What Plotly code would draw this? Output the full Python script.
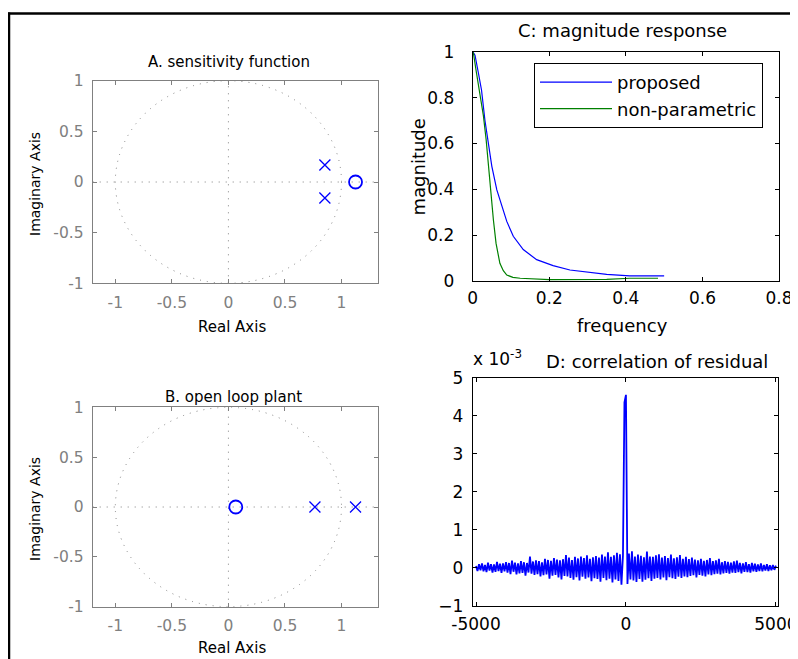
import plotly.graph_objects as go

W, H = 798, 659
PAD = 8  # the page body keeps an 8px margin round the figure

# ----- A: sensitivity function (pole/zero) -----
a_pole_re = [0.853, 0.853]
a_pole_im = [0.168, -0.158]
a_zero_re = [1.124]
a_zero_im = [0.0]

# ----- B: open loop plant (pole/zero) -----
b_pole_re = [0.765, 1.124]
b_pole_im = [0.0, 0.0]
b_zero_re = [0.065]
b_zero_im = [0.0]

# ----- C: magnitude response -----
prop_f = [0, 0.006, 0.015, 0.023, 0.032, 0.041, 0.050, 0.063, 0.076, 0.089,
          0.106, 0.132, 0.167, 0.21, 0.254, 0.302, 0.35, 0.41, 0.5]
prop_m = [1.0, 0.985, 0.906, 0.833, 0.70, 0.60, 0.50, 0.397, 0.325, 0.26,
          0.195, 0.137, 0.093, 0.067, 0.048, 0.038, 0.029, 0.022, 0.022]
np_f = [0, 0.002, 0.01, 0.019, 0.028, 0.035, 0.041, 0.047, 0.054, 0.061,
        0.071, 0.08, 0.089, 0.105, 0.124, 0.2, 0.35, 0.41, 0.484]
np_m = [1.0, 0.993, 0.906, 0.82, 0.72, 0.618, 0.5, 0.384, 0.267, 0.164,
        0.077, 0.045, 0.026, 0.016, 0.012, 0.006, 0.007, 0.012, 0.012]

# ----- D: correlation of residual (x 1e-3), lags -5000..5000 step 50 -----
lags = list(range(-5000, 5001, 50))
corr = [
    0.05, -0.08, 0.10, -0.06, 0.12, -0.09, 0.08, -0.11, 0.14, -0.07,
    0.10, -0.12, 0.09, -0.10, 0.16, -0.08, 0.11, -0.13, 0.12, -0.09,
    0.15, -0.12, 0.13, -0.16, 0.19, -0.10, 0.14, -0.17, 0.12, -0.14,
    0.18, -0.13, 0.15, -0.20, 0.13, -0.12, 0.30, -0.15, 0.17, -0.18,
    0.20, -0.16, 0.18, -0.22, 0.15, -0.19, 0.24, -0.17, 0.21, -0.28,
    0.19, -0.20, 0.26, -0.18, 0.22, -0.25, 0.20, -0.30, 0.23, -0.21,
    0.34, -0.22, 0.27, -0.26, 0.21, -0.31, 0.29, -0.24, 0.25, -0.33,
    0.30, -0.23, 0.26, -0.28, 0.33, -0.25, 0.24, -0.35, 0.28, -0.27,
    0.31, -0.29, 0.27, -0.36, 0.35, -0.26, 0.30, -0.32, 0.41, -0.28,
    0.29, -0.38, 0.33, -0.30, 0.40, -0.34, 0.36, -0.44, 0.32, 4.35,
    4.55,
    -0.42, 0.38, -0.30, 0.44, -0.33, 0.30, -0.37, 0.35, -0.29, 0.32,
    -0.36, 0.28, -0.31, 0.43, -0.27, 0.30, -0.34, 0.29, -0.28, 0.33,
    -0.26, 0.36, -0.30, 0.27, -0.25, 0.31, -0.32, 0.26, -0.24, 0.35,
    -0.27, 0.25, -0.29, 0.28, -0.23, 0.34, -0.26, 0.24, -0.22, 0.29,
    -0.24, 0.23, -0.21, 0.27, -0.19, 0.22, -0.25, 0.20, -0.18, 0.24,
    -0.20, 0.19, -0.22, 0.21, -0.17, 0.26, -0.19, 0.18, -0.16, 0.20,
    -0.15, 0.24, -0.17, 0.15, -0.14, 0.18, -0.13, 0.16, -0.15, 0.14,
    -0.12, 0.17, -0.13, 0.19, -0.11, 0.13, -0.14, 0.12, -0.10, 0.15,
    -0.11, 0.10, -0.12, 0.13, -0.09, 0.11, -0.10, 0.09, -0.08, 0.12,
    -0.09, 0.08, -0.07, 0.10, -0.08, 0.07, -0.06, 0.08, -0.05, 0.06,
]

pz_ticks = [-1, -0.5, 0, 0.5, 1]
pz_text = ["-1", "-0.5", "0", "0.5", "1"]

FONT = "DejaVu Sans"
GRAY = "#808080"
BLUE = "#0000ff"
GREEN = "#008000"

FW, FH = W - PAD, H - PAD


def px_x(x):
    # window pixel -> paper fraction
    return (x - PAD) / FW


def px_y(y):
    return 1 - (y - PAD) / FH


fig = go.Figure()

# pole/zero panels
for xa, ya, pre, pim, zre, zim in [("x", "y", a_pole_re, a_pole_im, a_zero_re, a_zero_im),
                                   ("x2", "y2", b_pole_re, b_pole_im, b_zero_re, b_zero_im)]:
    fig.add_trace(go.Scatter(x=pre, y=pim, mode="markers", xaxis=xa, yaxis=ya, showlegend=False,
                             marker=dict(symbol="x-thin", size=11, line=dict(color=BLUE, width=1.3))))
    fig.add_trace(go.Scatter(x=zre, y=zim, mode="markers", xaxis=xa, yaxis=ya, showlegend=False,
                             marker=dict(symbol="circle-open", size=13, color=BLUE, line=dict(color=BLUE, width=1.8))))

fig.add_trace(go.Scatter(x=prop_f, y=prop_m, mode="lines", name="proposed", xaxis="x3", yaxis="y3",
                         line=dict(color=BLUE, width=1.2)))
fig.add_trace(go.Scatter(x=np_f, y=np_m, mode="lines", name="non-parametric", xaxis="x3", yaxis="y3",
                         line=dict(color=GREEN, width=1.2)))
fig.add_trace(go.Scatter(x=lags, y=corr, mode="lines", xaxis="x4", yaxis="y4", showlegend=False,
                         line=dict(color=BLUE, width=1.8)))

pz_ax = dict(ticks="inside", ticklen=4, tickcolor=GRAY, showline=True, linecolor=GRAY, linewidth=1,
             mirror="ticks", showgrid=False, zeroline=False, tickvals=pz_ticks, ticktext=pz_text,
             automargin=False, tickfont=dict(family=FONT, size=15.5, color=GRAY))
blk_ax = dict(ticks="inside", ticklen=4, tickcolor="black", showline=True, linecolor="black", linewidth=1,
              mirror="ticks", showgrid=False, zeroline=False, automargin=False,
              tickfont=dict(family=FONT, size=17, color="black"))

fig.update_layout(
    width=FW, height=FH, margin=dict(l=0, r=0, t=0, b=0),
    paper_bgcolor="white", plot_bgcolor="white",
    font=dict(family=FONT, color="black"),
    xaxis=dict(pz_ax, domain=[px_x(92.7), px_x(377.7)], range=[-1.2, 1.32], anchor="y", ticklabelstandoff=5),
    yaxis=dict(pz_ax, domain=[px_y(283.3), px_y(80.7)], range=[-1, 1], anchor="x", ticklabelstandoff=5),
    xaxis2=dict(pz_ax, domain=[px_x(92.7), px_x(377.7)], range=[-1.2, 1.32], anchor="y2", ticklabelstandoff=5),
    yaxis2=dict(pz_ax, domain=[px_y(606.7), px_y(407.3)], range=[-1, 1], anchor="x2", ticklabelstandoff=5),
    xaxis3=dict(blk_ax, domain=[px_x(472.7), px_x(779)], range=[0, 0.8], anchor="y3", ticklabelstandoff=2,
                tickvals=[0, 0.2, 0.4, 0.6, 0.8], ticktext=["0", "0.2", "0.4", "0.6", "0.8"]),
    yaxis3=dict(blk_ax, domain=[px_y(281), px_y(51.7)], range=[0, 1], anchor="x3", ticklabelstandoff=14,
                tickvals=[0, 0.2, 0.4, 0.6, 0.8, 1], ticktext=["0", "0.2", "0.4", "0.6", "0.8", "1"]),
    xaxis4=dict(blk_ax, domain=[px_x(472.7), px_x(778.3)], range=[-5110, 5080], anchor="y4",
                tickvals=[-5000, 0, 5000], ticktext=["-5000", "0", "5000"], ticklabelstandoff=3),
    yaxis4=dict(blk_ax, domain=[px_y(606), px_y(377.7)], range=[-1, 5], anchor="x4", ticklabelstandoff=5,
                tickvals=[-1, 0, 1, 2, 3, 4, 5]),
    legend=dict(x=px_x(534), y=px_y(63), xanchor="left", yanchor="top", bordercolor="black", borderwidth=1,
                bgcolor="white", font=dict(family=FONT, size=18), itemwidth=72, tracegroupgap=0),
)

# unit circles and dotted axes for pole/zero panels
for xa, ya in [("x", "y"), ("x2", "y2")]:
    fig.add_shape(type="circle", xref=xa, yref=ya, x0=-1, y0=-1, x1=1, y1=1,
                  line=dict(color=GRAY, width=1, dash="1px,6px"), layer="below")
    fig.add_shape(type="line", xref=xa + " domain", yref=ya, x0=0, x1=1, y0=0, y1=0,
                  line=dict(color=GRAY, width=1, dash="1px,6px"), layer="below")
    fig.add_shape(type="line", xref=xa, yref=ya + " domain", x0=0, x1=0, y0=0, y1=1,
                  line=dict(color=GRAY, width=1, dash="1px,6px"), layer="below")

# outer frame
fig.add_shape(type="line", xref="paper", yref="paper", x0=px_x(8), x1=1, y0=px_y(13.5), y1=px_y(13.5),
              line=dict(color="black", width=2.5))
fig.add_shape(type="line", xref="paper", yref="paper", x0=px_x(9), x1=px_x(9), y0=px_y(12.5), y1=0,
              line=dict(color="black", width=2.5))

texts = [
    ("A. sensitivity function", 229, 62, 15, 0),
    ("B. open loop plant", 233, 396.7, 15, 0),
    ("C: magnitude response", 622, 30, 18, 0),
    ("D: correlation of residual", 657, 361.7, 18, 0),
    ("Real Axis", 232, 327, 15, 0),
    ("Real Axis", 232, 648, 15, 0),
    ("Imaginary Axis", 35, 184, 14, -90),
    ("Imaginary Axis", 35, 509, 14, -90),
    ("magnitude", 418, 167.5, 18, -90),
    ("frequency", 622, 325, 18, 0),
]
for t, x, y, s, ang in texts:
    fig.add_annotation(text=t, x=px_x(x), y=px_y(y), xref="paper", yref="paper", showarrow=False,
                       xanchor="center", yanchor="middle", textangle=ang,
                       font=dict(family=FONT, size=s, color="black"))

fig.add_annotation(text="x 10<sup>-3</sup>", x=px_x(471), y=px_y(371), xref="paper", yref="paper",
                   showarrow=False, xanchor="left", yanchor="bottom",
                   font=dict(family=FONT, size=17, color="black"))

fig.write_html("out.html")
